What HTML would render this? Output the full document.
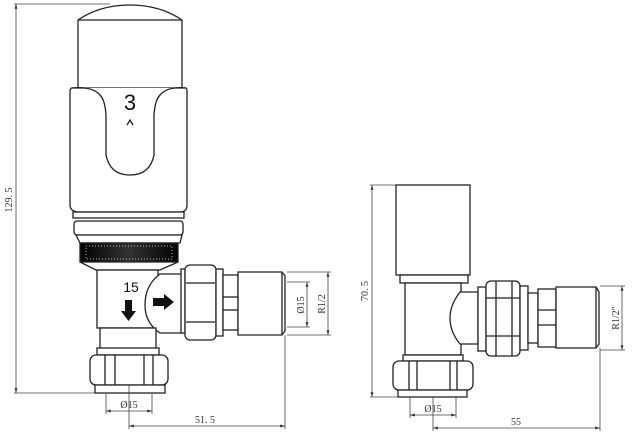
<!DOCTYPE html>
<html><head><style>
html,body{margin:0;padding:0;background:#fff}
svg{display:block}
text{font-family:"Liberation Serif",serif;fill:#333}
</style></head><body>
<svg width="643" height="437" viewBox="0 0 643 437" xmlns="http://www.w3.org/2000/svg">
<defs>
<marker id="a" viewBox="0 0 10 10" refX="10" refY="5" markerWidth="6" markerHeight="6" orient="auto-start-reverse"><path d="M0,2 L10,5 L0,8z" fill="#333"/></marker>
<linearGradient id="k" x1="0" x2="1"><stop offset="0" stop-color="#000"/><stop offset=".5" stop-color="#333"/><stop offset="1" stop-color="#000"/></linearGradient>
</defs>
<g fill="#fff" stroke="#222" stroke-width="1.3">
<path d="M78,20 Q100,5 130,5 Q160,5 182,20 L182,90 L78,90 Z"/>
<line x1="78" y1="20" x2="182" y2="20"/>
<path d="M72,88 L186,88 Q187,88 187,92 L187,205 Q187,212 180,212 L80,212 Q70,212 70,205 L70,92 Q70,88 72,88 Z"/>
<path d="M72,88 Q92,86 100,95 Q112,110 115,120 Q122,128 126,125 L130,122 L134,125 Q138,128 145,120 Q148,110 160,95 Q168,86 186,88" />
<path d="M100,95 Q105,100 106,115 L106,155 Q110,175 130,175 Q150,175 154,155 L154,115 Q155,100 160,95"/>
<path d="M127,125 L130,120 L133,125"/>
<rect x="73" y="212" width="111" height="6"/>
<rect x="74" y="221" width="109" height="14" rx="3"/>
<path d="M76,235 L182,235 L180,243 L80,243 Z"/>
<rect x="80" y="243" width="98" height="19" fill="url(#k)"/>
<rect x="86" y="246" width="86" height="13" fill="none" stroke="#bbb" stroke-width="1" stroke-dasharray="1 2"/>
<path d="M80,262 L178,262 L160,270 L96,270 Z"/>
<rect x="97" y="270" width="61" height="58"/>
<path d="M160,274 Q145,285 145,305 Q145,323 160,333 L182,333 L182,274 Z"/>
<rect x="100" y="328" width="56" height="22"/>
<rect x="97" y="348" width="62" height="7"/>
<rect x="90" y="355" width="78" height="30" rx="6"/>
<line x1="105" y1="355" x2="105" y2="385"/><line x1="115" y1="355" x2="115" y2="385"/>
<line x1="144" y1="355" x2="144" y2="385"/><line x1="153" y1="355" x2="153" y2="385"/>
<rect x="95" y="385" width="70" height="8"/>
<rect x="181" y="269" width="4" height="64"/>
<rect x="185" y="265" width="31" height="75" rx="5"/>
<line x1="186" y1="283" x2="215" y2="283"/><line x1="186" y1="322" x2="215" y2="322"/>
<rect x="216" y="269" width="7" height="67"/>
<rect x="223" y="275" width="15" height="55"/>
<line x1="223" y1="297" x2="238" y2="297"/><line x1="223" y1="310" x2="238" y2="310"/>
<path d="M238,272 L282,272 L285,276 L285,331 L282,335 L238,335 Z"/>
<line x1="282" y1="272" x2="282" y2="335"/>
<rect x="396" y="185" width="74" height="90"/>
<rect x="400" y="275" width="68" height="8"/>
<rect x="405" y="283" width="56" height="72"/>
<path d="M460,292 Q450,305 450,318 Q450,332 460,344 L478,344 L478,292 Z"/>
<rect x="478" y="287" width="8" height="64"/>
<rect x="486" y="281" width="34" height="75" rx="5"/>
<line x1="496" y1="281" x2="496" y2="356"/><line x1="512" y1="281" x2="512" y2="356"/>
<line x1="486" y1="298" x2="520" y2="298"/><line x1="486" y1="336" x2="520" y2="336"/>
<rect x="520" y="286" width="8" height="64"/>
<rect x="528" y="293" width="10" height="50"/>
<rect x="538" y="289" width="18" height="58"/>
<line x1="538" y1="310" x2="556" y2="310"/><line x1="538" y1="325" x2="556" y2="325"/>
<path d="M556,287 L596,287 L599,292 L599,344 L596,348 L556,348 Z"/>
<line x1="596" y1="287" x2="596" y2="348"/>
<rect x="403" y="355" width="60" height="6"/>
<rect x="393" y="361" width="80" height="29" rx="6"/>
<line x1="409" y1="361" x2="409" y2="390"/><line x1="417" y1="361" x2="417" y2="390"/>
<line x1="450" y1="361" x2="450" y2="390"/><line x1="457" y1="361" x2="457" y2="390"/>
<rect x="398" y="390" width="69" height="7"/>
</g>
<text x="131" y="292" font-size="14" text-anchor="middle" style="font-family:'Liberation Sans',sans-serif;fill:#111">15</text>
<text x="130" y="110" font-size="22" text-anchor="middle" style="font-family:'Liberation Sans',sans-serif;fill:#111">3</text>
<path d="M125,300 L132,300 L132,311 L136,311 L128.5,321 L121,311 L125,311 Z" fill="#111"/>
<path d="M153,298 L164,298 L164,294 L174,302 L164,310 L164,306 L153,306 Z" fill="#111"/>
<g stroke="#444" stroke-width="0.8" fill="none">
<line x1="14" y1="4" x2="110" y2="4"/><line x1="14" y1="393" x2="95" y2="393"/>
<line x1="16" y1="4" x2="16" y2="393" marker-start="url(#a)" marker-end="url(#a)"/>
<line x1="106" y1="393" x2="106" y2="414"/><line x1="152" y1="393" x2="152" y2="414"/>
<line x1="106" y1="411" x2="152" y2="411" marker-start="url(#a)" marker-end="url(#a)"/>
<line x1="129" y1="385" x2="129" y2="429"/><line x1="285" y1="335" x2="285" y2="429"/>
<line x1="129" y1="426" x2="285" y2="426" marker-start="url(#a)" marker-end="url(#a)"/>
<line x1="287" y1="282" x2="310" y2="282"/><line x1="287" y1="327" x2="310" y2="327"/>
<line x1="307" y1="282" x2="307" y2="327" marker-start="url(#a)" marker-end="url(#a)"/>
<line x1="287" y1="272" x2="331" y2="272"/><line x1="287" y1="335" x2="331" y2="335"/>
<line x1="328" y1="272" x2="328" y2="335" marker-start="url(#a)" marker-end="url(#a)"/>
<line x1="370" y1="185" x2="396" y2="185"/><line x1="370" y1="397" x2="398" y2="397"/>
<line x1="372" y1="185" x2="372" y2="397" marker-start="url(#a)" marker-end="url(#a)"/>
<line x1="410" y1="397" x2="410" y2="418"/><line x1="456" y1="397" x2="456" y2="418"/>
<line x1="410" y1="415" x2="456" y2="415" marker-start="url(#a)" marker-end="url(#a)"/>
<line x1="433" y1="397" x2="433" y2="431"/><line x1="600" y1="348" x2="600" y2="431"/>
<line x1="433" y1="428" x2="600" y2="428" marker-start="url(#a)" marker-end="url(#a)"/>
<line x1="600" y1="286" x2="625" y2="286"/><line x1="600" y1="350" x2="625" y2="350"/>
<line x1="622" y1="286" x2="622" y2="350" marker-start="url(#a)" marker-end="url(#a)"/>
</g>
<g font-size="10">
<text x="12" y="200" text-anchor="middle" transform="rotate(-90 12 200)">129. 5</text>
<text x="129" y="408" text-anchor="middle">Ø15</text>
<text x="205" y="423" text-anchor="middle">51. 5</text>
<text x="304" y="305" text-anchor="middle" transform="rotate(-90 304 305)">Ø15</text>
<text x="325" y="304" text-anchor="middle" transform="rotate(-90 325 304)">R1/2</text>
<text x="368" y="291" text-anchor="middle" transform="rotate(-90 368 291)">70. 5</text>
<text x="433" y="412" text-anchor="middle">Ø15</text>
<text x="516" y="425" text-anchor="middle">55</text>
<text x="619" y="318" text-anchor="middle" transform="rotate(-90 619 318)">R1/2"</text>
</g>
</svg>
</body></html>
